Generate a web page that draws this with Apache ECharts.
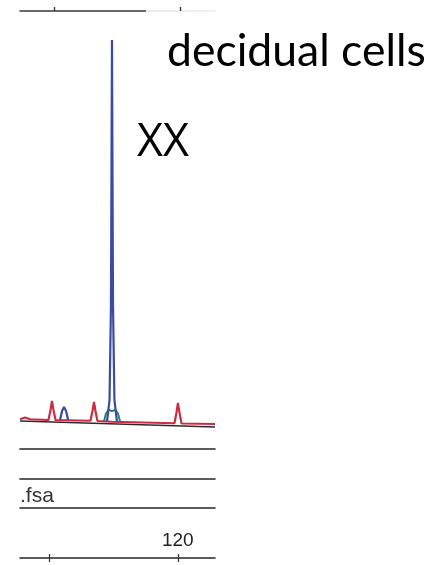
<!DOCTYPE html>
<html>
<head>
<meta charset="utf-8">
<style>
html,body{margin:0;padding:0;background:#fff;}
#chart{width:436px;height:565px;}
</style>
<script src="https://cdn.jsdelivr.net/npm/echarts@6/dist/echarts.min.js"></script>
</head>
<body>
<div id="chart"></div>
<script>
// ---- data (x in bp, y in RFU) ----
const sizeTicks = [110, 120];
const sizeLabels = [120];
const topTicks = [110.4, 120.2];

// red (size standard) trace
const redBp  = [107.70, 108.10, 108.50, 109.92, 110.08, 110.19, 110.31, 110.47, 113.19, 113.35, 113.47, 113.58, 113.74, 114.87, 119.74, 119.90, 120.01, 120.13, 120.29, 122.90];
const redRfu = [215,    250,    215,    200,    400,    580,    400,    200,    185,    380,    560,    380,    180,    165,    135,    350,    540,    350,    130,    120];

// blue trace (sample peaks)
const blueBp  = [110.82, 110.98, 111.13, 111.29, 111.45, null, 114.48, 114.68, 114.79, 114.87, 114.95, 115.06, 115.26];
const blueRfu = [200,    380,    460,    380,    200,    null, 170,    600,    2500,   7800,   2500,   600,    170];

// green trace (small peak under main)
const greenBp  = [114.25, 114.40, 114.60, 114.87, 115.14, 115.34, 115.50];
const greenRfu = [170,    330,    400,    380,    400,    330,    170];

// baseline rule of the panel
const baseBp  = [107.70, 122.90];
const baseRfu = [180, 60];

const xMin = 107.7, xMax = 122.9;
const yMax = 8000;

function zip(xs, ys){ return xs.map((x,i)=> x===null ? null : [x, ys[i]]); }

const chart = echarts.init(document.getElementById('chart'), null, {renderer:'canvas'});

const L = 20, W = 195;
const grids = [
  {left:L, width:W, top:30, height:400},   // 0 main trace
  {left:L, width:W, top:11, height:0},     // 1 top scale
  {left:L, width:W, top:449, height:0},    // 2 rule
  {left:L, width:W, top:479, height:0},    // 3 rule
  {left:L, width:W, top:508, height:0},    // 4 rule (.fsa)
  {left:L, width:W, top:558, height:0}     // 5 bottom scale
];

function ruleAxis(gi, pos, extra){
  return Object.assign({
    type:'value', gridIndex:gi, min:xMin, max:xMax, position:pos,
    axisLine:{show:true, lineStyle:{color:'#262626', width:1.6}},
    axisTick:{show:false}, axisLabel:{show:false}, splitLine:{show:false}
  }, extra||{});
}

const topGrad = {type:'linear', x:0, y:0, x2:1, y2:0, colorStops:[
  {offset:0, color:'#3a3a3a'}, {offset:0.64, color:'#3a3a3a'},
  {offset:0.645, color:'#e4e4e4'}, {offset:1, color:'#ececec'}]};

const option = {
  animation:false,
  backgroundColor:'#fff',
  grid: grids,
  xAxis: [
    {type:'value', gridIndex:0, min:xMin, max:xMax, show:false},
    ruleAxis(1,'bottom',{axisLine:{show:true,lineStyle:{color:topGrad,width:1.6}},
      axisTick:{show:true, inside:true, length:4, customValues:topTicks, lineStyle:{color:'#3a3a3a',width:1.2}}}),
    ruleAxis(1,'top',{axisLine:{show:false},
      axisTick:{show:true, inside:false, length:4, customValues:topTicks, lineStyle:{color:'#3a3a3a',width:1.2}}}),
    ruleAxis(2,'bottom'),
    ruleAxis(3,'bottom'),
    ruleAxis(4,'bottom'),
    ruleAxis(5,'bottom',{
      axisTick:{show:true, inside:false, length:4, customValues:sizeTicks, lineStyle:{color:'#333',width:1.2}},
      axisLabel:{show:true, inside:true, margin:8, customValues:sizeLabels,
        color:'#222', fontFamily:'Liberation Sans', fontSize:19, fontWeight:'normal'}}),
    ruleAxis(5,'top',{axisLine:{show:false},
      axisTick:{show:true, inside:false, length:4, customValues:sizeTicks, lineStyle:{color:'#333',width:1.2}}})
  ],
  yAxis: grids.map((g,i)=>({type:'value', gridIndex:i, show:false, min:0, max: i===0 ? yMax : 1})),
  graphic: [
    {type:'text', x:167, y:74, style:{text:'decidual cells', font:'44.5px Lato', fill:'#000', verticalAlign:'bottom'}},
    {type:'text', x:137, y:166, style:{text:'XX', font:'45px "Open Sans"', fill:'#000', verticalAlign:'bottom'}},
    {type:'text', x:20, y:507, style:{text:'.fsa', font:'21px "Liberation Sans"', fill:'#333', verticalAlign:'bottom'}}
  ],
  series: [
    {type:'line', name:'baseline', xAxisIndex:0, yAxisIndex:0, data:zip(baseBp, baseRfu),
      symbol:'none', lineStyle:{color:'#2b2b2b', width:1.6}, z:1},
    {type:'line', name:'green', xAxisIndex:0, yAxisIndex:0, data:zip(greenBp, greenRfu),
      symbol:'none', lineStyle:{color:'#2d7f7a', width:2}, z:2},
    {type:'line', name:'red', xAxisIndex:0, yAxisIndex:0, data:zip(redBp, redRfu),
      symbol:'none', lineStyle:{color:'#c92c44', width:2.2}, z:3},
    {type:'line', name:'blue', xAxisIndex:0, yAxisIndex:0, data:zip(blueBp, blueRfu),
      symbol:'none', connectNulls:false, lineStyle:{color:'#3b4aa3', width:2.2}, z:4}
  ]
};
chart.setOption(option);
</script>
</body>
</html>
